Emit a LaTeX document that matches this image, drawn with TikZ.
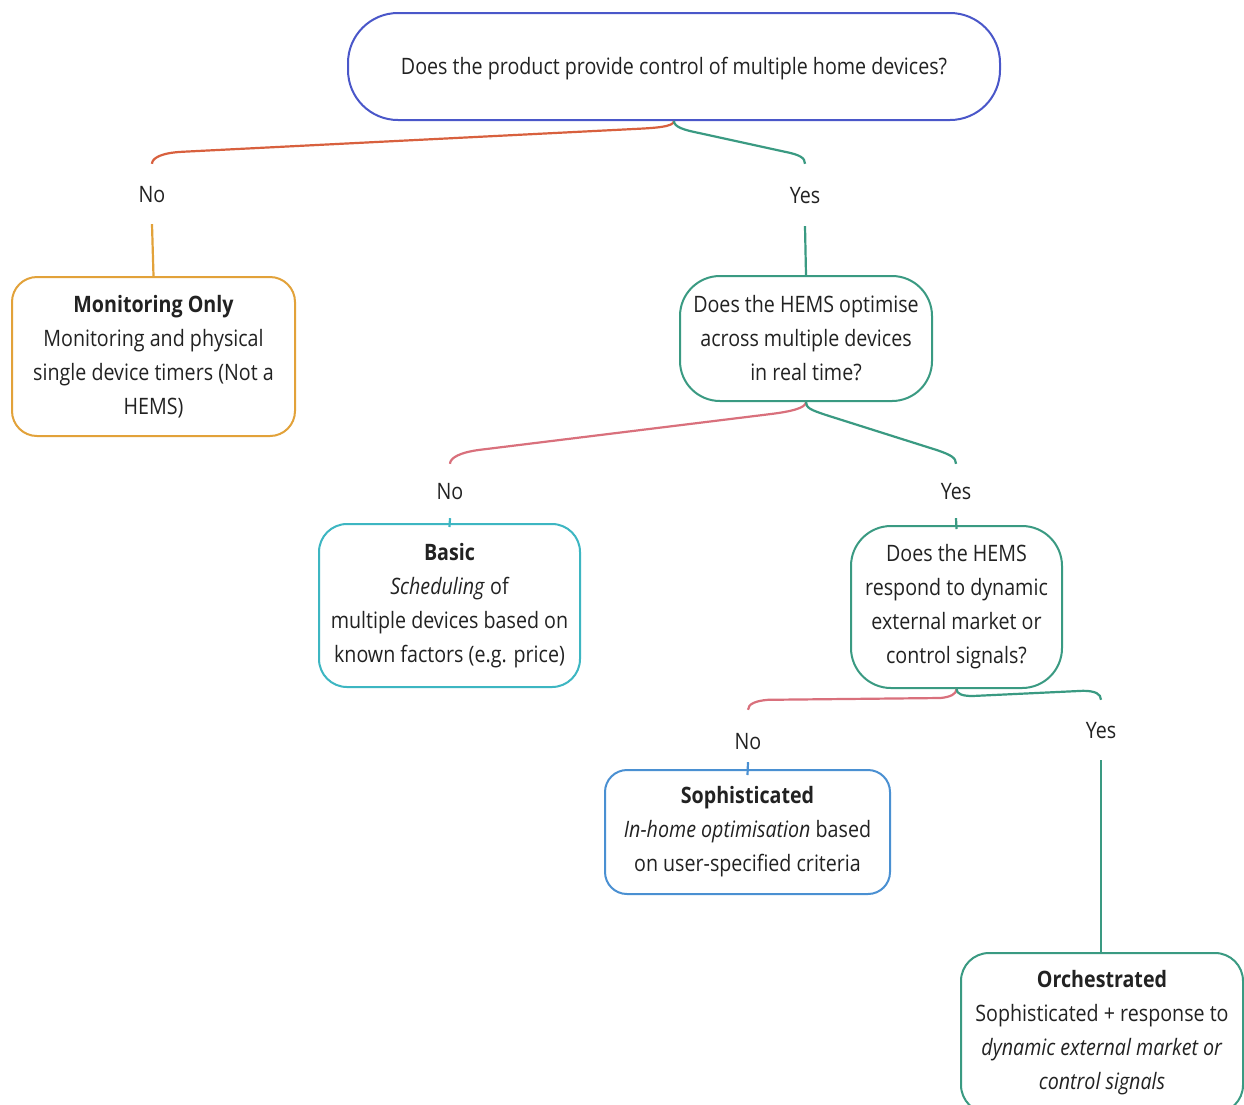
\documentclass[tikz,border=0pt]{standalone}
\usepackage{fontspec}
\setmainfont{Open Sans}[FakeStretch=0.87]
\usetikzlibrary{calc}
\definecolor{cBlue}{HTML}{4A57C9}
\definecolor{cRed}{HTML}{D8603E}
\definecolor{cTeal}{HTML}{3A9A82}
\definecolor{cOrange}{HTML}{E2A23A}
\definecolor{cPink}{HTML}{D9707C}
\definecolor{cCyan}{HTML}{3DB6C2}
\definecolor{cBlue2}{HTML}{4A90D2}
\definecolor{txt}{HTML}{222222}
\begin{document}
\begin{tikzpicture}[x=1pt,y=-1pt,
  box/.style={draw, line width=2pt, fill=white, align=center, text=txt, inner sep=0pt, font=\fontsize{22.6}{34}\selectfont},
  lbl/.style={inner xsep=2pt, inner ysep=20pt, text height=18pt, text depth=2pt, text=txt, font=\fontsize{22.6}{34}\selectfont},
  link/.style={line width=2.2pt}]
\clip (0,0) rectangle (1244,1104);
\fill[white] (0,0) rectangle (1244,1104);

\node[box, draw=cBlue, rounded corners=50pt, minimum width=652pt, minimum height=107pt, text height=18pt, text depth=2pt] (q1) at (674,66.5) {Does the product provide control of multiple home devices?};
\node[lbl] (no1) at (152,194) {No};
\node[lbl, inner ysep=21pt] (yes1) at (805,195) {Yes};
\node[box, draw=cOrange, rounded corners=25pt, minimum width=283pt, minimum height=159pt] (mon) at (153.5,356.5) {\textbf{Monitoring Only}\\Monitoring and physical\\single device timers (Not a\\HEMS)};
\node[box, draw=cTeal, rounded corners=40pt, minimum width=252pt, minimum height=125pt] (q2) at (806,338.5) {Does the HEMS optimise\\across multiple devices\\in real time?};
\node[lbl, inner ysep=17pt] (no2) at (450,491) {No};
\node[lbl, inner ysep=17pt] (yes2) at (956,491) {Yes};
\node[box, draw=cCyan, rounded corners=28pt, minimum width=261pt, minimum height=163pt] (basic) at (449.5,605.5) {\textbf{Basic}\\\textit{Scheduling} of\\multiple devices based on\\known factors (e.g. price)};
\node[box, draw=cTeal, rounded corners=40pt, minimum width=211pt, minimum height=162pt] (q3) at (956.5,607) {Does the HEMS\\respond to dynamic\\external market or\\control signals?};
\node[lbl, inner ysep=11pt] (no3) at (748,741) {No};
\node[lbl, inner ysep=20pt] (yes3) at (1101,730) {Yes};
\node[box, draw=cBlue2, rounded corners=22pt, minimum width=285pt, minimum height=124pt] (soph) at (747.5,832) {\textbf{Sophisticated}\\\textit{In-home optimisation} based\\on user-specified criteria};
\node[box, draw=cTeal, rounded corners=28pt, minimum width=282pt, minimum height=160pt] (orch) at (1102,1033) {\textbf{Orchestrated}\\Sophisticated + response to\\\textit{dynamic external market or}\\\textit{control signals}};
\coordinate (no3top) at ([yshift=10pt]no3.north);

% connectors
\draw[link, cRed] (q1.south) .. controls +(0,6) and +(20,-1) .. ($(q1.south)+(-40,8)$) -- ($(no1.north)+(30,-12)$) .. controls +(-20,1) and +(0,-6) .. (no1.north);
\draw[link, cTeal] (q1.south) .. controls +(0,6) and +(-15,-3) .. ($(q1.south)+(25,12)$) -- ($(yes1.north)+(-20,-12)$) .. controls +(15,3) and +(0,-6) .. (yes1.north);
\draw[link, cOrange] (no1.south) -- (mon.north);
\draw[link, cTeal] (yes1.south) -- (q2.north);

\draw[link, cPink] (q2.south) .. controls +(0,6) and +(20,-2.5) .. ($(q2.south)+(-35,12)$) -- ($(no2.north)+(30,-14)$) .. controls +(-20,2.5) and +(0,-6) .. (no2.north);
\draw[link, cTeal] (q2.south) .. controls +(0,6) and +(-15,-5) .. ($(q2.south)+(20,13)$) -- ($(yes2.north)+(-20,-14)$) .. controls +(15,5) and +(0,-6) .. (yes2.north);
\draw[link, cCyan] (no2.south) -- ([yshift=-4pt]basic.north);
\draw[link, cTeal] (yes2.south) -- ([yshift=-4pt]q3.north);

\draw[link, cPink] (q3.south) .. controls +(0,5) and +(10,-1) .. ($(q3.south)+(-16,9)$) -- ($(no3top)+(20,-10)$) .. controls +(-12,1) and +(0,-6) .. (no3top);
\draw[link, cTeal] (q3.south) .. controls +(0,5) and +(-10,0) .. ($(q3.south)+(16,7)$) -- ($(yes3.north)+(-18,-9)$) .. controls +(12,0) and +(0,-6) .. (yes3.north);
\draw[link, cBlue2] (no3.south) -- ([yshift=-6pt]soph.north);
\draw[link, cTeal] (yes3.south) -- (yes3.south |- orch.north);
\end{tikzpicture}
\end{document}
